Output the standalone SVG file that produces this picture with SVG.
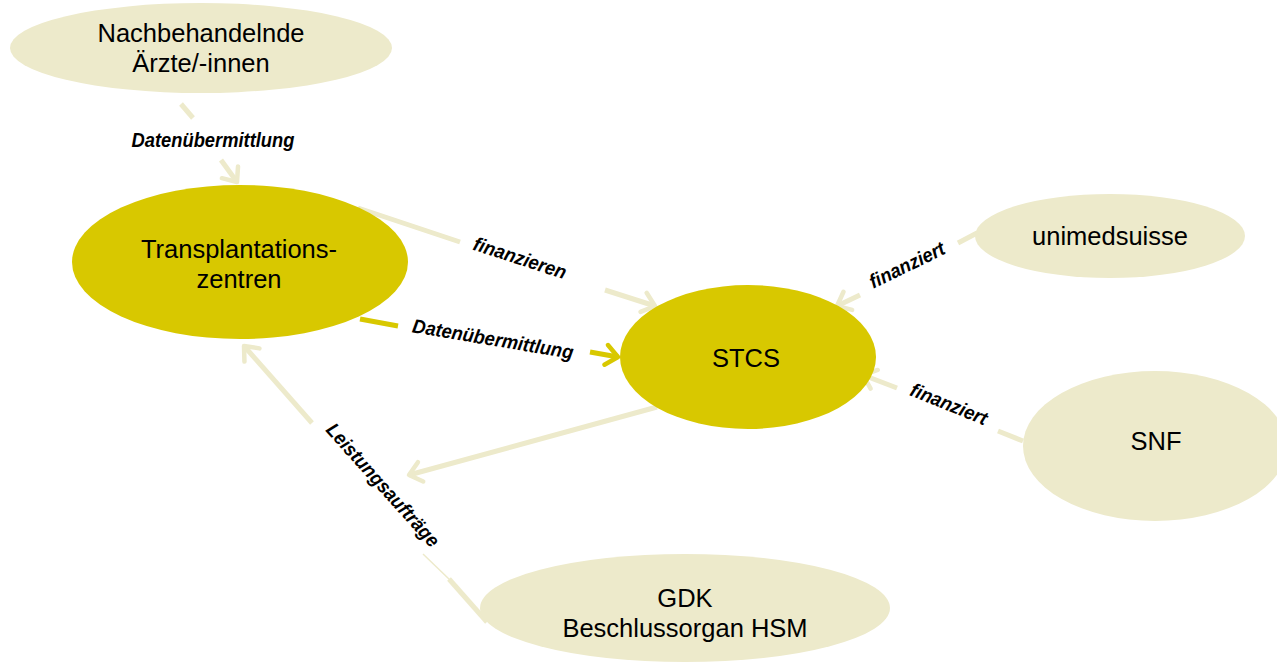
<svg xmlns="http://www.w3.org/2000/svg" width="1277" height="662" viewBox="0 0 1277 662">
<style>
.light{fill:#EDEACB}
.dark{fill:#D8C800}
.nt{font-family:"Liberation Sans",Arial,sans-serif;font-size:25.5px;fill:#000;text-anchor:middle}
.lb{font-family:"Liberation Sans",Arial,sans-serif;font-size:19.5px;font-weight:bold;font-style:italic;fill:#000;text-anchor:middle;dominant-baseline:central}
.cl{stroke:#EDEACB;stroke-width:5;fill:none}
.cd{stroke:#D8C800;stroke-width:5;fill:none}
</style>
<defs>
<marker id="al" markerUnits="userSpaceOnUse" viewBox="-20 -15 26 30" refX="0" refY="0" markerWidth="26" markerHeight="30" orient="auto" overflow="visible">
<path d="M -12 -10 L 0 0 L -12 10" fill="none" stroke="#EDEACB" stroke-width="4.5" stroke-linecap="round" stroke-linejoin="round"/>
</marker>
<marker id="ad" markerUnits="userSpaceOnUse" viewBox="-20 -15 26 30" refX="0" refY="0" markerWidth="26" markerHeight="30" orient="auto" overflow="visible">
<path d="M -12 -10 L 0 0 L -12 10" fill="none" stroke="#D8C800" stroke-width="4.5" stroke-linecap="round" stroke-linejoin="round"/>
</marker>
</defs>
<rect width="1277" height="662" fill="#fff"/>

<g id="connectors">
<line class="cl" x1="181" y1="104" x2="193" y2="118"/>
<line class="cl" x1="221" y1="160" x2="237" y2="182" marker-end="url(#al)"/>
<line class="cl" x1="358" y1="208" x2="460" y2="242"/>
<line class="cl" x1="605" y1="290" x2="655" y2="306" marker-end="url(#al)"/>
<line class="cd" x1="360" y1="319" x2="398" y2="326"/>
<line class="cd" x1="590" y1="352" x2="618" y2="357" marker-end="url(#ad)"/>
<line class="cl" x1="977" y1="233" x2="958" y2="243"/>
<line class="cl" x1="860" y1="295" x2="837" y2="306" marker-end="url(#al)"/>
<line class="cl" x1="1023" y1="441" x2="998" y2="431"/>
<line class="cl" x1="897" y1="388" x2="863" y2="375" marker-end="url(#al)"/>
<line class="cl" x1="657" y1="407" x2="409" y2="475" marker-end="url(#al)"/>
<line class="cl" x1="487" y1="622" x2="449" y2="579"/>
<line stroke="#EDEACB" stroke-width="1.5" x1="450" y1="580" x2="423" y2="554"/>
<line class="cl" x1="312" y1="423" x2="244" y2="346" marker-end="url(#al)"/>
<text class="lb" transform="translate(213 140) scale(0.94 1)">Datenübermittlung</text>
<text class="lb" transform="translate(520 258) rotate(18) scale(0.94 1)">finanzieren</text>
<text class="lb" transform="translate(493 339) rotate(9.5) scale(0.94 1)">Datenübermittlung</text>
<text class="lb" transform="translate(907 265) rotate(-26) scale(0.94 1)">finanziert</text>
<text class="lb" transform="translate(949 404) rotate(22) scale(0.94 1)">finanziert</text>
<text class="lb" transform="translate(383 485) rotate(48) scale(0.94 1)">Leistungsaufträge</text>
</g>

<g id="node-nachbehandelnde">
<ellipse class="light" cx="201" cy="48" rx="191" ry="45"/>
<text class="nt" x="201" y="42">Nachbehandelnde</text>
<text class="nt" x="201" y="72">Ärzte/-innen</text>
</g>
<g id="node-transplantationszentren">
<ellipse class="dark" cx="240" cy="262" rx="168" ry="77"/>
<text class="nt" x="239" y="258">Transplantations-</text>
<text class="nt" x="239" y="288">zentren</text>
</g>
<g id="node-stcs">
<ellipse class="dark" cx="748" cy="357" rx="128" ry="72"/>
<text class="nt" x="746" y="367">STCS</text>
</g>
<g id="node-unimedsuisse">
<ellipse class="light" cx="1110" cy="236" rx="135" ry="42"/>
<text class="nt" x="1110" y="245">unimedsuisse</text>
</g>
<g id="node-snf">
<ellipse class="light" cx="1155" cy="446" rx="132" ry="75"/>
<text class="nt" x="1156" y="450">SNF</text>
</g>
<g id="node-gdk">
<ellipse class="light" cx="685" cy="608" rx="205" ry="54"/>
<text class="nt" x="685" y="607">GDK</text>
<text class="nt" x="685" y="637">Beschlussorgan HSM</text>
</g>
</svg>
